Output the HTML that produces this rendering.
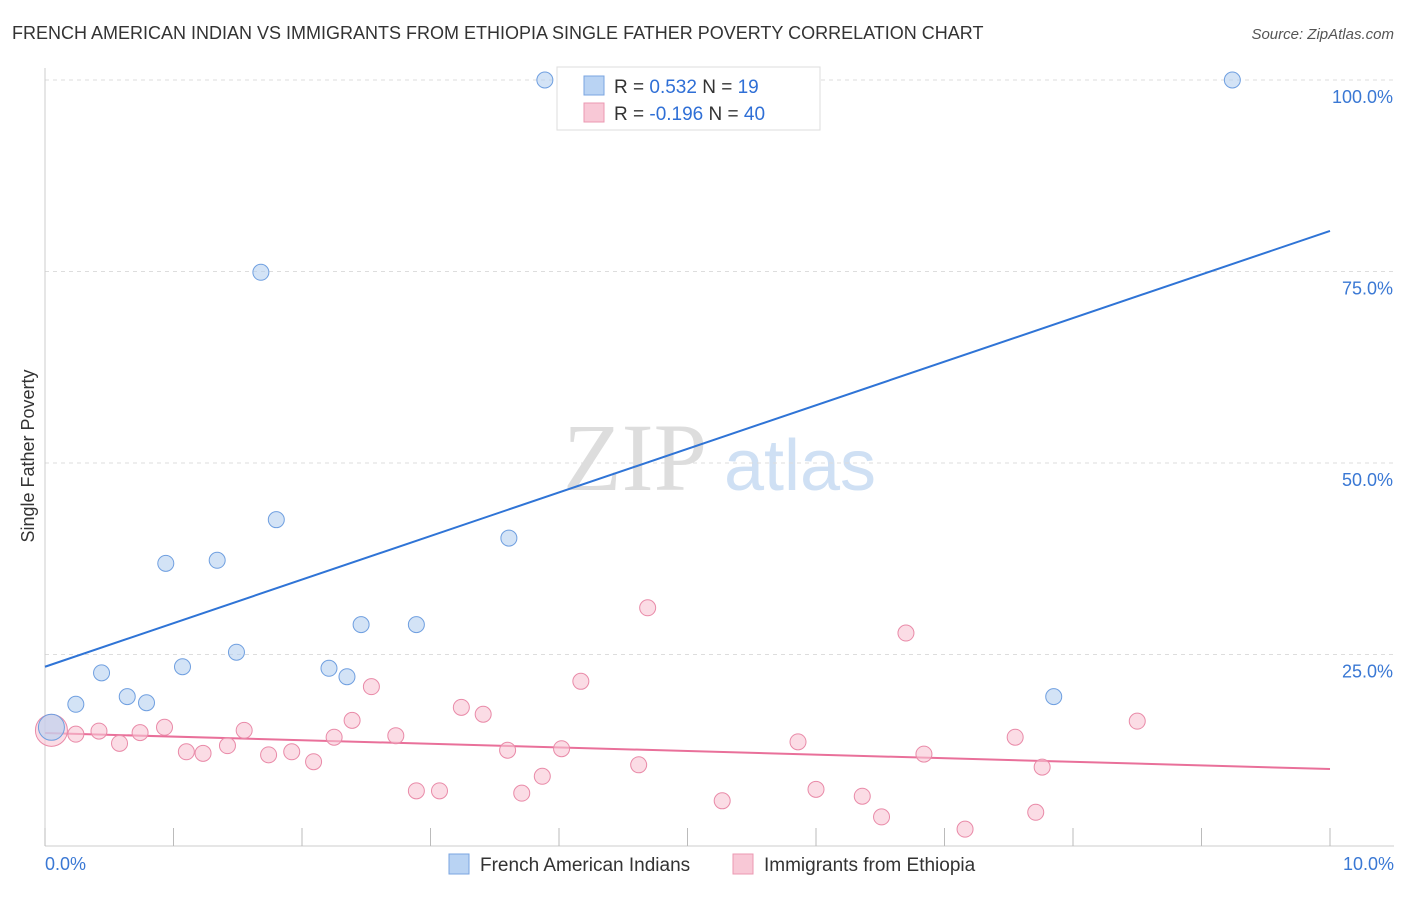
<!DOCTYPE html>
<html><head><meta charset="utf-8"><style>
body{margin:0;background:#fff;font-family:"Liberation Sans",sans-serif}
</style></head><body>
<svg width="1406" height="892" xmlns="http://www.w3.org/2000/svg" font-family="Liberation Sans, sans-serif">
<text x="12" y="39" font-size="18" fill="#333">FRENCH AMERICAN INDIAN VS IMMIGRANTS FROM ETHIOPIA SINGLE FATHER POVERTY CORRELATION CHART</text>
<text x="1394" y="39" font-size="15" fill="#555" font-style="italic" text-anchor="end">Source: ZipAtlas.com</text>
<g>
<text x="635" y="490" font-size="96" fill="#ddd" font-family="Liberation Serif, serif" text-anchor="middle">ZIP</text>
<text x="800" y="490" font-size="72" fill="#cfe0f4" text-anchor="middle">atlas</text>
</g>
<g id="grid"></g>
<g id="axes"></g>
<text transform="translate(34,456) rotate(-90)" font-size="18" fill="#333" text-anchor="middle">Single Father Poverty</text>
<g id="lines"></g>
<g id="points"></g>
<g>
<rect x="557" y="67" width="263" height="63" fill="#fff" stroke="#ddd"/>
<rect x="584" y="76" width="20" height="19" fill="#b9d3f3" stroke="#7aa5e0"/>
<text x="614" y="93" font-size="19" fill="#333">R = <tspan fill="#2f6fd6">0.532</tspan>   N = <tspan fill="#2f6fd6"> 19</tspan></text>
<rect x="584" y="103" width="20" height="19" fill="#f8c8d6" stroke="#eb98b2"/>
<text x="614" y="120" font-size="19" fill="#333">R = <tspan fill="#2f6fd6">-0.196</tspan>   N = <tspan fill="#2f6fd6">40</tspan></text>
</g>
<g>
<rect x="449" y="854" width="20" height="20" fill="#b9d3f3" stroke="#7aa5e0"/>
<text x="480" y="871" font-size="19" fill="#333">French American Indians</text>
<rect x="733" y="854" width="20" height="20" fill="#f8c8d6" stroke="#eb98b2"/>
<text x="764" y="871" font-size="19" fill="#333">Immigrants from Ethiopia</text>
</g>
</svg>
<script>
const blueX=[3.89,9.24,1.68,1.80,0.94,1.34,3.61,2.46,2.89,1.49,1.07,2.21,2.35,0.44,0.64,0.79,0.24,7.85,0.05];
const blueY=[100,100,74.9,42.6,36.9,37.3,40.2,28.9,28.9,25.3,23.4,23.2,22.1,22.6,19.5,18.7,18.5,19.5,15.5];
const pinkX=[4.69,6.70,2.54,4.17,3.24,3.41,2.39,0.93,1.55,0.42,0.24,0.74,2.25,2.73,0.58,1.42,1.10,1.23,1.74,1.92,2.09,3.60,4.02,4.62,3.87,2.89,3.07,3.71,5.27,5.86,6.00,6.36,6.51,6.84,7.16,7.55,7.76,7.71,8.50,0.05];
const pinkY=[31.1,27.8,20.8,21.5,18.1,17.2,16.4,15.5,15.1,15.0,14.6,14.8,14.2,14.4,13.4,13.1,12.3,12.1,11.9,12.3,11.0,12.5,12.7,10.6,9.1,7.2,7.2,6.9,5.9,13.6,7.4,6.5,3.8,12.0,2.2,14.2,10.3,4.4,16.3,15.1];
const blueTrend=[23.4,80.3];
const pinkTrend=[14.75,10.05];
const yTicks=[25,50,75,100];
const yTickLabels=["25.0%","50.0%","75.0%","100.0%"];
const xTicks=[0,1,2,3,4,5,6,7,8,9,10];
const NS="http://www.w3.org/2000/svg";
const sx=v=>45+v*128.5;
const sy=v=>846-v*7.66;
function mk(tag,attrs,parent){const e=document.createElementNS(NS,tag);for(const k in attrs)e.setAttribute(k,attrs[k]);document.getElementById(parent).appendChild(e);return e;}
yTicks.forEach((t,i)=>{
 const l=mk('line',{x1:45,x2:1394,y1:sy(t),y2:sy(t),stroke:'#ddd','stroke-dasharray':'4,4'},'grid');
 
 
 const tx=mk('text',{x:1393,y:sy(t)+23,'font-size':18,fill:'#3a78d4','text-anchor':'end'},'axes');
 tx.textContent=yTickLabels[i];
 
 
});
const ax=mk('line',{x1:45,x2:1394,y1:846,y2:846,stroke:'#ccc'},'axes');


const ay=mk('line',{x1:45,x2:45,y1:68,y2:846,stroke:'#ccc'},'axes');


xTicks.forEach(t=>{
 const l=mk('line',{x1:sx(t),x2:sx(t),y1:828,y2:846,stroke:'#bbb'},'axes');
 
 
});
const x0=mk('text',{x:45,y:870,'font-size':18,fill:'#3a78d4'},'axes');x0.textContent='0.0%';


const x1=mk('text',{x:1394,y:870,'font-size':18,fill:'#3a78d4','text-anchor':'end'},'axes');x1.textContent='10.0%';


const bl=mk('line',{x1:sx(0),x2:sx(10),y1:sy(blueTrend[0]),y2:sy(blueTrend[1]),stroke:'#2f74d6','stroke-width':2},'lines');


const pl=mk('line',{x1:sx(0),x2:sx(10),y1:sy(pinkTrend[0]),y2:sy(pinkTrend[1]),stroke:'#e9709a','stroke-width':2},'lines');


pinkX.forEach((x,i)=>{
 const c=mk('circle',{cx:sx(x),cy:sy(pinkY[i]),r:i===pinkX.length-1?16:8,fill:'#f8c4d3','fill-opacity':0.6,stroke:'#e98aa8'},'points');
 
 
});
blueX.forEach((x,i)=>{
 const c=mk('circle',{cx:sx(x),cy:sy(blueY[i]),r:i===blueX.length-1?13:8,fill:'#b5d0f0','fill-opacity':0.6,stroke:'#6f9fe0'},'points');
 
 
});
</script>
</body></html>
